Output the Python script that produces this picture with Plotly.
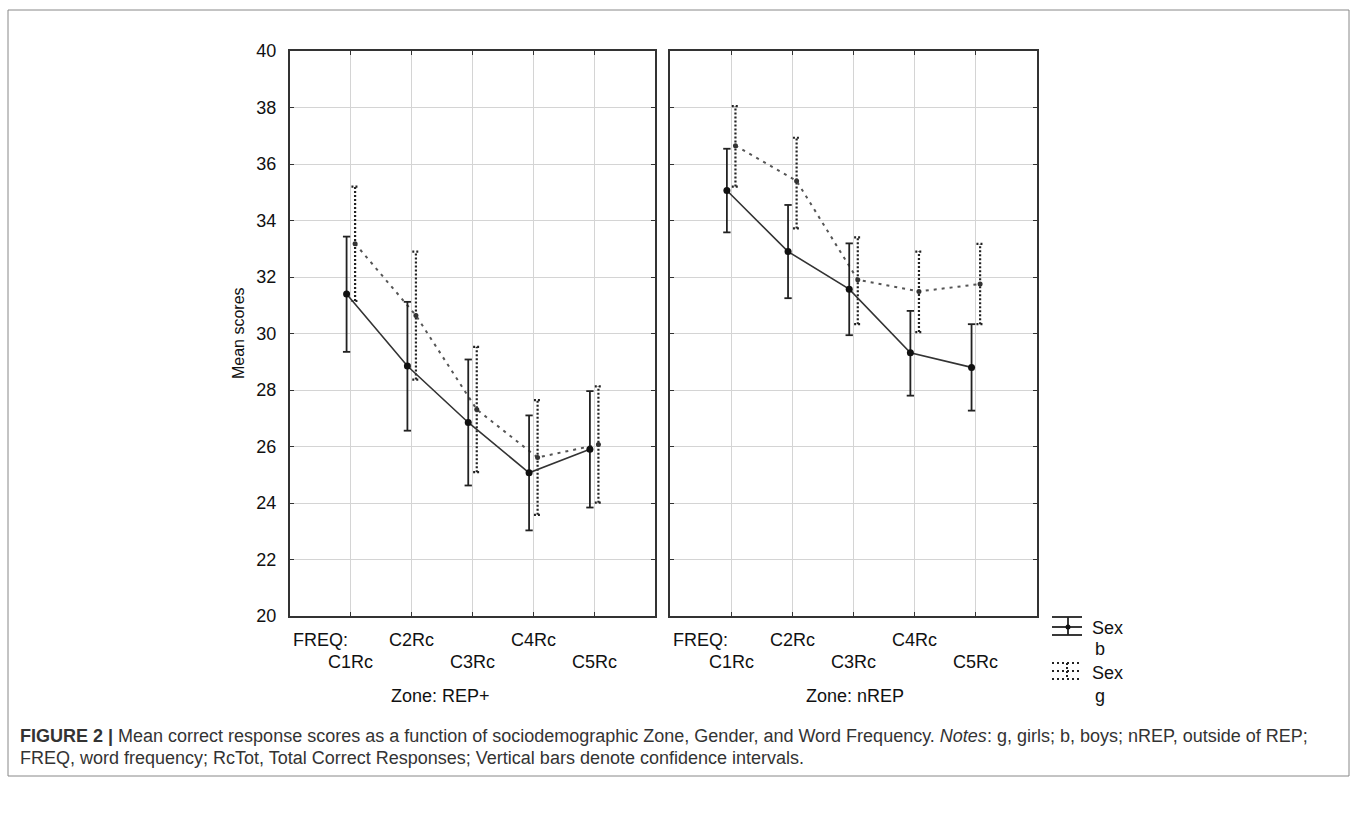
import plotly.graph_objects as go

# ---------------- data ----------------
categories = ["C1Rc", "C2Rc", "C3Rc", "C4Rc", "C5Rc"]
zones = ["Zone: REP+", "Zone: nREP"]

boys_rep = [31.40, 28.85, 26.85, 25.07, 25.90]
boys_rep_lo = [29.35, 26.56, 24.62, 23.03, 23.84]
boys_rep_hi = [33.43, 31.12, 29.08, 27.10, 27.96]

girls_rep = [33.18, 30.64, 27.31, 25.61, 26.07]
girls_rep_lo = [31.15, 28.37, 25.09, 23.58, 24.01]
girls_rep_hi = [35.20, 32.90, 29.53, 27.64, 28.13]

boys_nrep = [35.06, 32.90, 31.57, 29.32, 28.80]
boys_nrep_lo = [33.58, 31.25, 29.94, 27.80, 27.27]
boys_nrep_hi = [36.54, 34.55, 33.19, 30.80, 30.33]

girls_nrep = [36.65, 35.40, 31.90, 31.49, 31.75]
girls_nrep_lo = [35.20, 33.72, 30.33, 30.05, 30.33]
girls_nrep_hi = [38.05, 36.93, 33.40, 32.90, 33.17]

y_ticks = [20, 22, 24, 26, 28, 30, 32, 34, 36, 38, 40]

# ---------------- layout helpers ----------------
W, H = 1357, 819
def px(x):
    return x / W
def py(y):
    return 1 - y / H

FONT = "Liberation Sans, Arial, sans-serif"
AX = "#333333"
fig = go.Figure()

pos = list(range(1, len(categories) + 1))
OFF = 0.07
CAP = 0.06

def ci_segments(xs, lo, hi):
    sx, sy = [], []
    for x, l, h in zip(xs, lo, hi):
        sx += [x, x, None, x - CAP, x + CAP, None, x - CAP, x + CAP, None]
        sy += [l, h, None, l, l, None, h, h, None]
    return sx, sy

panels = [
    ("x", "y", boys_rep, boys_rep_lo, boys_rep_hi, girls_rep, girls_rep_lo, girls_rep_hi),
    ("x2", "y2", boys_nrep, boys_nrep_lo, boys_nrep_hi, girls_nrep, girls_nrep_lo, girls_nrep_hi),
]

for xa, ya, b, blo, bhi, g, glo, ghi in panels:
    xb = [p - OFF for p in pos]
    xg = [p + OFF for p in pos]
    sx, sy = ci_segments(xg, glo, ghi)
    fig.add_trace(go.Scatter(x=sx, y=sy, mode="lines", xaxis=xa, yaxis=ya,
                             line=dict(color="#222222", width=2.2, dash="2px,2px"),
                             showlegend=False, hoverinfo="skip"))
    fig.add_trace(go.Scatter(x=xg, y=g, mode="lines+markers", xaxis=xa, yaxis=ya,
                             line=dict(color="#555555", width=2, dash="3px,5px"),
                             marker=dict(size=5, color="#333333"),
                             showlegend=False))
    sx, sy = ci_segments(xb, blo, bhi)
    fig.add_trace(go.Scatter(x=sx, y=sy, mode="lines", xaxis=xa, yaxis=ya,
                             line=dict(color="#222222", width=1.8),
                             showlegend=False, hoverinfo="skip"))
    fig.add_trace(go.Scatter(x=xb, y=b, mode="lines+markers", xaxis=xa, yaxis=ya,
                             line=dict(color="#333333", width=1.6),
                             marker=dict(size=7, color="#111111"),
                             showlegend=False))

xaxis_common = dict(range=[0, 6], tickvals=pos, showticklabels=False, automargin=False,
                    showgrid=True, gridcolor="#d4d4d4", gridwidth=1,
                    showline=True, linecolor=AX, linewidth=2, mirror="ticks",
                    ticks="inside", ticklen=4, tickcolor=AX, zeroline=False)
yaxis_common = dict(range=[20, 40], tickvals=y_ticks, automargin=False,
                    showgrid=True, gridcolor="#d4d4d4", gridwidth=1,
                    showline=True, linecolor=AX, linewidth=2, mirror="ticks",
                    ticks="inside", ticklen=4, tickcolor=AX, zeroline=False,
                    tickfont=dict(family=FONT, size=18, color="#111111"))

fig.update_layout(
    width=W, height=H, margin=dict(l=0, r=0, t=0, b=0, pad=0, autoexpand=False),
    paper_bgcolor="white", plot_bgcolor="white",
    xaxis=dict(domain=[px(290), px(655)], anchor="y", **xaxis_common),
    xaxis2=dict(domain=[px(670), px(1037)], anchor="y2", **xaxis_common),
    yaxis=dict(domain=[py(616), py(51)], anchor="x", showticklabels=True,
               ticklabelstandoff=8, **yaxis_common),
    yaxis2=dict(domain=[py(616), py(51)], anchor="x2", showticklabels=False,
                **yaxis_common),
)

ann = []
tf = dict(family=FONT, size=18, color="#111111")
for xr in ["x", "x2"]:
    ann.append(dict(x=1, y=py(640), xref=xr, yref="paper", text="FREQ:",
                    xanchor="right", yanchor="middle", showarrow=False, font=tf, xshift=-1))
    for i, c in enumerate(categories):
        row_y = 640 if i % 2 == 1 else 662
        ann.append(dict(x=pos[i], y=py(row_y), xref=xr, yref="paper", text=c,
                        xanchor="center", yanchor="middle", showarrow=False, font=tf))
ann.append(dict(x=2.47, y=py(696), xref="x", yref="paper", text=zones[0],
                xanchor="center", yanchor="middle", showarrow=False, font=tf))
ann.append(dict(x=3.02, y=py(696), xref="x2", yref="paper", text=zones[1],
                xanchor="center", yanchor="middle", showarrow=False, font=tf))
ann.append(dict(x=px(238), y=py(333), xref="paper", yref="paper", text="Mean scores",
                textangle=-90, xanchor="center", yanchor="middle", showarrow=False,
                font=dict(family=FONT, size=16, color="#111111")))

ann += [
    dict(x=px(1090), y=py(628), text="Sex", xanchor="left"),
    dict(x=px(1100), y=py(649), text="b", xanchor="center"),
    dict(x=px(1090), y=py(673), text="Sex", xanchor="left"),
    dict(x=px(1100), y=py(696), text="g", xanchor="center"),
]
for a in ann[-4:]:
    a.update(xref="paper", yref="paper", yanchor="middle", showarrow=False, font=tf)

cf = dict(family=FONT, size=18, color="#333333")
ann.append(dict(x=px(18), y=py(736), xref="paper", yref="paper", xanchor="left",
                yanchor="middle", showarrow=False, font=cf, align="left",
                text="<b>FIGURE 2 |</b> Mean correct response scores as a function of sociodemographic Zone, "
                     "Gender, and Word Frequency. <i>Notes</i>: g, girls; b, boys; nREP, outside of REP;"))
ann.append(dict(x=px(18), y=py(758), xref="paper", yref="paper", xanchor="left",
                yanchor="middle", showarrow=False, font=cf, align="left",
                text="FREQ, word frequency; RcTot, Total Correct Responses; Vertical bars denote confidence intervals."))
fig.update_layout(annotations=ann)

shapes = []
shapes.append(dict(type="rect", xref="paper", yref="paper", x0=px(8), x1=px(1349),
                   y0=py(776), y1=py(10), line=dict(color="#888888", width=1)))
def seg(x0, y0, x1, y1, dash="solid", w=1.8):
    return dict(type="line", xref="paper", yref="paper", x0=px(x0), y0=py(y0),
                x1=px(x1), y1=py(y1), line=dict(color="#222222", width=w, dash=dash))
shapes += [seg(1052, 617, 1082, 617), seg(1052, 627, 1082, 627), seg(1052, 635, 1082, 635),
           seg(1068, 617, 1068, 635)]
shapes.append(dict(type="circle", xref="paper", yref="paper", x0=px(1065.5), x1=px(1070.5),
                   y0=py(629.5), y1=py(624.5), fillcolor="#111111", line=dict(width=0)))
shapes += [seg(1052, 663, 1080, 663, "2px,3px", 2), seg(1052, 671, 1080, 671, "2px,3px", 2),
           seg(1052, 679, 1080, 679, "2px,3px", 2), seg(1067, 663, 1067, 679, "2px,2px", 2)]
fig.update_layout(shapes=shapes)

fig.write_html("out.html", config={"displayModeBar": False},
               post_script="document.body.style.margin='0';document.body.style.overflow='hidden';")
